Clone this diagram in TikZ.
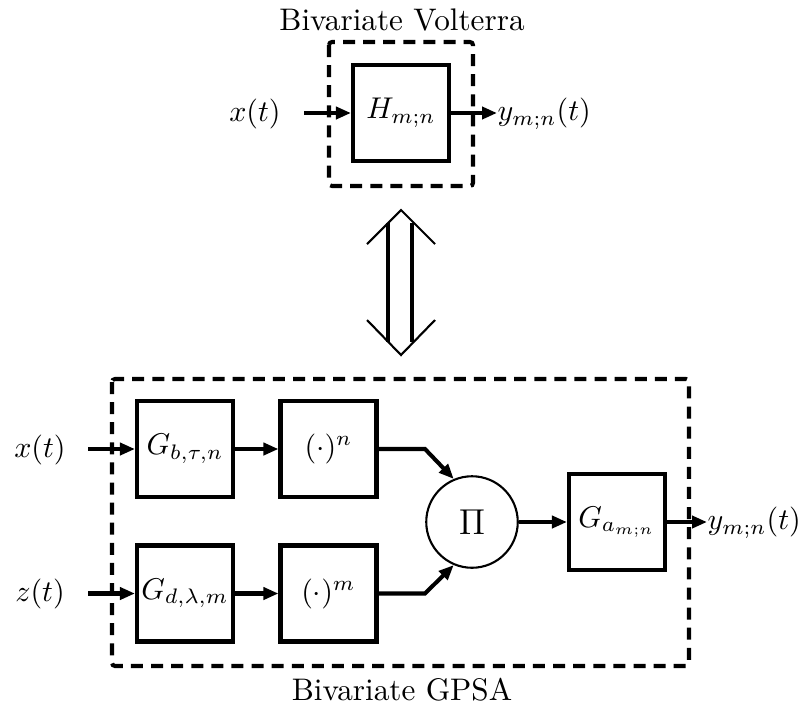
\documentclass[tikz,border=0pt]{standalone}
\usepackage{amsmath,amssymb}
\usetikzlibrary{arrows.meta,positioning}

\begin{document}
\begin{tikzpicture}[x=0.3333pt,y=-0.3333pt,
    every node/.style={font=\fontsize{10.4}{12}\selectfont},
    blk/.style={draw,line width=1.35pt,minimum width=32pt,minimum height=32pt,inner sep=0pt},
    sig/.style={line width=1.35pt,-{Triangle[length=5pt,width=4pt]}},
    frame/.style={line width=1.35pt,dash pattern=on 4pt off 2.7pt,rounded corners=1pt},
    lbl/.style={inner sep=0pt}]
        \useasboundingbox (0,0) rectangle (810,711);
        % Volterra part
        \node[lbl] (ttop) at (402,20) {Bivariate Volterra};
        \draw[frame] (329,42) rectangle (473,186);
        \node[blk] (H) at (401,113) {$H_{m;n}$};
        \node[lbl] (xtop) at (255,114) {$x(t)$};
        \coordinate (xin) at (304,113);
        \node[lbl,anchor=west] (ytop) at (497,114) {$y_{m;n}(t)$};
        \draw[sig] (xin) -- (H);
        \draw[sig] (H) -- (H -| ytop.west);
        % equivalence
        \draw[line width=0.7pt] (367,244) -- (401,210) -- (435,244);
        \draw[line width=0.7pt] (367,320) -- (401,355) -- (435,320);
        \draw[line width=1.35pt] (388,223) -- (388,342) (412,223) -- (412,342);
        % GPSA part
        \draw[frame] (112,379) rectangle (689,666);
        \node[lbl] (tbot) at (402,690) {Bivariate GPSA};
        \node[blk] (Gb) at (185,449) {$G_{b,\tau,n}$};
        \node[blk] (pn) at (328.5,449) {$(\cdot)^n$};
        \node[blk] (Gd) at (185,593.5) {$G_{d,\lambda,m}$};
        \node[blk] (pm) at (328.5,593.5) {$(\cdot)^m$};
        \node[draw,circle,line width=0.7pt,minimum size=30.5pt,inner sep=0pt,font=\fontsize{13}{14}\selectfont] (prod) at (472,522) {$\Pi$};
        \node[blk] (Ga) at (617,522) {$G_{a_{m;n}}$};
        \node[lbl] (xbot) at (40,450) {$x(t)$};
        \node[lbl] (zbot) at (40,594) {$z(t)$};
        \node[lbl,anchor=west] (ybot) at (707,523) {$y_{m;n}(t)$};
        \coordinate (xin2) at (88,449);
        \coordinate (zin) at (88,593.5);
        \coordinate (kn) at (425,449);
        \coordinate (km) at (425,593.5);
        \draw[sig] (xin2) -- (Gb);
        \draw[sig] (zin) -- (Gd);
        \draw[sig] (Gb) -- (pn);
        \draw[sig] (Gd) -- (pm);
        \draw[sig] (pn) -- (kn) -- (prod.113);
        \draw[sig] (pm) -- (km) -- (prod.247);
        \draw[sig] (prod) -- (Ga);
        \draw[sig] (Ga) -- (Ga -| ybot.west);
      \end{tikzpicture}
\end{document}
